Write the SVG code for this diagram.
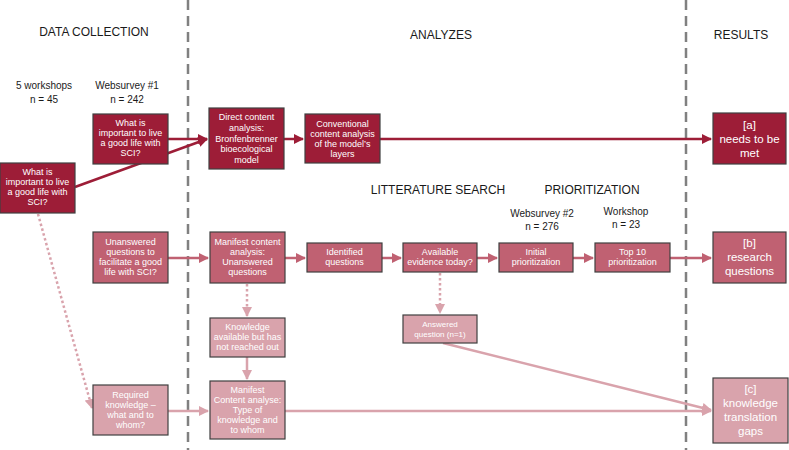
<svg xmlns="http://www.w3.org/2000/svg" width="789" height="450" viewBox="0 0 789 450">
<defs>
<style>
.hd{font-family:"Liberation Sans",Arial,sans-serif;font-size:12px;fill:#1a1a1a;text-anchor:middle}
.lb{font-family:"Liberation Sans",Arial,sans-serif;font-size:10px;fill:#1a1a1a;text-anchor:middle}
.t{font-family:"Liberation Sans",Arial,sans-serif;font-size:9px;fill:#ffffff;text-anchor:middle}
.tb{font-family:"Liberation Sans",Arial,sans-serif;font-size:11.5px;fill:#ffffff;text-anchor:middle}
.d{fill:#9d1d37;stroke:#404040;stroke-width:1.2}
.m{fill:#c06172;stroke:#404040;stroke-width:1.2}
.l{fill:#d9a3ac;stroke:#404040;stroke-width:1.2}
.sep{stroke:#808080;stroke-width:2.5;stroke-dasharray:10,6;fill:none}
.cd{stroke:#9d1d37;stroke-width:2.5;fill:none}
.cm{stroke:#c06172;stroke-width:2.5;fill:none}
.cl{stroke:#d9a3ac;stroke-width:2.5;fill:none}
.dot{stroke-dasharray:2.5,2.5}
</style>
<marker id="ad" viewBox="0 0 10 10" refX="9" refY="5" markerWidth="4" markerHeight="4" orient="auto" markerUnits="strokeWidth"><path d="M0,0 L10,5 L0,10 z" fill="#9d1d37"/></marker>
<marker id="am" viewBox="0 0 10 10" refX="9" refY="5" markerWidth="4" markerHeight="4" orient="auto" markerUnits="strokeWidth"><path d="M0,0 L10,5 L0,10 z" fill="#c06172"/></marker>
<marker id="al" viewBox="0 0 10 10" refX="9" refY="5" markerWidth="4" markerHeight="4" orient="auto" markerUnits="strokeWidth"><path d="M0,0 L10,5 L0,10 z" fill="#d9a3ac"/></marker>
</defs>
<rect width="789" height="450" fill="#ffffff"/>
<g id="separators">
<line class="sep" x1="188" y1="0" x2="188" y2="450"/>
<line class="sep" x1="686" y1="0" x2="686" y2="450"/>
</g>
<g id="headers">
<text class="hd" x="94" y="36">DATA COLLECTION</text>
<text class="hd" x="441" y="39">ANALYZES</text>
<text class="hd" x="741" y="39">RESULTS</text>
<text class="hd" x="438" y="194">LITTERATURE SEARCH</text>
<text class="hd" x="592" y="194">PRIORITIZATION</text>
<text class="lb" x="44" y="89">5 workshops</text>
<text class="lb" x="44" y="103">n = 45</text>
<text class="lb" x="127" y="89">Websurvey #1</text>
<text class="lb" x="127" y="103">n = 242</text>
<text class="lb" x="542" y="217">Websurvey #2</text>
<text class="lb" x="542" y="230">n = 276</text>
<text class="lb" x="626" y="215">Workshop</text>
<text class="lb" x="626" y="228">n = 23</text>
</g>
<g id="connectors">
<line class="cd" x1="168" y1="139" x2="207" y2="139" marker-end="url(#ad)"/>
<line class="cd" x1="75" y1="187" x2="207" y2="139" marker-end="url(#ad)"/>
<line class="cd" x1="284" y1="139" x2="303" y2="139" marker-end="url(#ad)"/>
<line class="cd" x1="380" y1="139" x2="711" y2="139" marker-end="url(#ad)"/>
<line class="cm" x1="168" y1="258" x2="208" y2="258" marker-end="url(#am)"/>
<line class="cm" x1="285" y1="258" x2="305" y2="258" marker-end="url(#am)"/>
<line class="cm" x1="382" y1="258" x2="401" y2="258" marker-end="url(#am)"/>
<line class="cm" x1="477" y1="258" x2="497" y2="258" marker-end="url(#am)"/>
<line class="cm" x1="573" y1="258" x2="593" y2="258" marker-end="url(#am)"/>
<line class="cm" x1="670" y1="258" x2="711" y2="258" marker-end="url(#am)"/>
<line class="cl dot" x1="247" y1="284" x2="247" y2="316" marker-end="url(#al)"/>
<line class="cl dot" x1="440" y1="273" x2="440" y2="313" marker-end="url(#al)"/>
<line class="cl dot" x1="38" y1="214" x2="92" y2="408" marker-end="url(#al)"/>
<line class="cl" x1="247" y1="357" x2="247" y2="379" marker-end="url(#al)"/>
<line class="cl" x1="168" y1="411" x2="208" y2="411" marker-end="url(#al)"/>
<line class="cl" x1="285" y1="411" x2="711" y2="411" marker-end="url(#al)"/>
<line class="cl" x1="443" y1="343" x2="711" y2="410" marker-end="url(#al)"/>
</g>
<g id="n-workshops">
<rect class="d" x="0" y="163" width="75" height="50"/>
<text class="t" x="37.5" y="175">What is</text>
<text class="t" x="37.5" y="185">important to live</text>
<text class="t" x="37.5" y="195">a good life with</text>
<text class="t" x="37.5" y="205">SCI?</text>
</g>
<g id="n-websurvey1">
<rect class="d" x="93" y="114" width="75" height="50"/>
<text class="t" x="130.5" y="126">What is</text>
<text class="t" x="130.5" y="136">important to live</text>
<text class="t" x="130.5" y="146">a good life with</text>
<text class="t" x="130.5" y="156">SCI?</text>
</g>
<g id="n-direct">
<rect class="d" x="209" y="108" width="75" height="61"/>
<text class="t" x="246.5" y="120">Direct content</text>
<text class="t" x="246.5" y="131">analysis:</text>
<text class="t" x="246.5" y="142">Bronfenbrenner</text>
<text class="t" x="246.5" y="152">bioecological</text>
<text class="t" x="246.5" y="163">model</text>
</g>
<g id="n-conventional">
<rect class="d" x="305" y="114" width="75" height="49"/>
<text class="t" x="342.5" y="127">Conventional</text>
<text class="t" x="342.5" y="137">content analysis</text>
<text class="t" x="342.5" y="147">of the model’s</text>
<text class="t" x="342.5" y="157">layers</text>
</g>
<g id="n-a">
<rect class="d" x="713" y="113" width="73" height="51"/>
<text class="tb" x="749.5" y="129">[a]</text>
<text class="tb" x="749.5" y="143">needs to be</text>
<text class="tb" x="749.5" y="157">met</text>
</g>
<g id="n-unanswered">
<rect class="m" x="93" y="232" width="75" height="51"/>
<text class="t" x="130.5" y="245">Unanswered</text>
<text class="t" x="130.5" y="255">questions to</text>
<text class="t" x="130.5" y="265">facilitate a good</text>
<text class="t" x="130.5" y="275">life with SCI?</text>
</g>
<g id="n-manifest">
<rect class="m" x="210" y="232" width="75" height="51"/>
<text class="t" x="247.5" y="245">Manifest content</text>
<text class="t" x="247.5" y="255">analysis:</text>
<text class="t" x="247.5" y="265">Unanswered</text>
<text class="t" x="247.5" y="275">questions</text>
</g>
<g id="n-identified">
<rect class="m" x="307" y="243" width="75" height="29"/>
<text class="t" x="344.5" y="255">Identified</text>
<text class="t" x="344.5" y="265">questions</text>
</g>
<g id="n-available">
<rect class="m" x="403" y="243" width="74" height="29"/>
<text class="t" x="440" y="255">Available</text>
<text class="t" x="440" y="265">evidence today?</text>
</g>
<g id="n-initial">
<rect class="m" x="499" y="243" width="74" height="29"/>
<text class="t" x="536" y="255">Initial</text>
<text class="t" x="536" y="265">prioritization</text>
</g>
<g id="n-top10">
<rect class="m" x="595" y="243" width="75" height="29"/>
<text class="t" x="632.5" y="255">Top 10</text>
<text class="t" x="632.5" y="265">prioritization</text>
</g>
<g id="n-b">
<rect class="m" x="713" y="232" width="73" height="51"/>
<text class="tb" x="749.5" y="247">[b]</text>
<text class="tb" x="749.5" y="261">research</text>
<text class="tb" x="749.5" y="275">questions</text>
</g>
<g id="n-knowledge">
<rect class="l" x="210" y="318" width="75" height="39"/>
<text class="t" x="247.5" y="330">Knowledge</text>
<text class="t" x="247.5" y="340">available but has</text>
<text class="t" x="247.5" y="350">not reached out</text>
</g>
<g id="n-answered">
<rect class="l" x="403" y="315" width="74" height="28"/>
<text class="t" x="440" y="327" style="font-size:8px">Answered</text>
<text class="t" x="440" y="337" style="font-size:8px">question (n=1)</text>
</g>
<g id="n-required">
<rect class="l" x="93" y="385" width="75" height="50"/>
<text class="t" x="130.5" y="398">Required</text>
<text class="t" x="130.5" y="408">knowledge –</text>
<text class="t" x="130.5" y="418">what and to</text>
<text class="t" x="130.5" y="428">whom?</text>
</g>
<g id="n-manifest2">
<rect class="l" x="210" y="381" width="75" height="58"/>
<text class="t" x="247.5" y="393">Manifest</text>
<text class="t" x="247.5" y="403">Content analyse:</text>
<text class="t" x="247.5" y="413">Type of</text>
<text class="t" x="247.5" y="423">knowledge and</text>
<text class="t" x="247.5" y="433">to whom</text>
</g>
<g id="n-c">
<rect class="l" x="713" y="378" width="75" height="65"/>
<text class="tb" x="750.5" y="393">[c]</text>
<text class="tb" x="750.5" y="407">knowledge</text>
<text class="tb" x="750.5" y="421">translation</text>
<text class="tb" x="750.5" y="435">gaps</text>
</g>
</svg>
